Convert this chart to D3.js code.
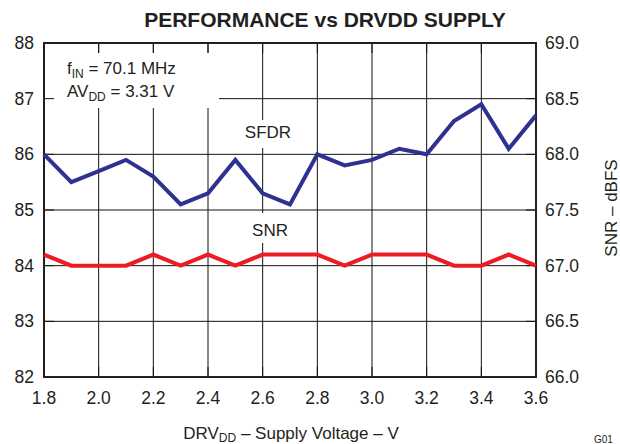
<!DOCTYPE html>
<html>
<head>
<meta charset="utf-8">
<script src="https://cdn.jsdelivr.net/npm/d3@7"></script>
<style>
  body { margin: 0; background: #fff; }
  text { font-family: "Liberation Sans", Arial, sans-serif; fill: #231f20; }
</style>
</head>
<body>
<div id="chart"></div>
<script>
var supply = [1.8, 1.9, 2.0, 2.1, 2.2, 2.3, 2.4, 2.5, 2.6, 2.7, 2.8, 2.9, 3.0, 3.1, 3.2, 3.3, 3.4, 3.5, 3.6];
var sfdr = [86.0, 85.5, 85.7, 85.9, 85.6, 85.1, 85.3, 85.9, 85.3, 85.1, 86.0, 85.8, 85.9, 86.1, 86.0, 86.6, 86.9, 86.1, 86.7];
var snr = [67.1, 67.0, 67.0, 67.0, 67.1, 67.0, 67.1, 67.0, 67.1, 67.1, 67.1, 67.0, 67.1, 67.1, 67.1, 67.0, 67.0, 67.1, 67.0];
var xTicks = [1.8, 2.0, 2.2, 2.4, 2.6, 2.8, 3.0, 3.2, 3.4, 3.6];
var leftTicks = [82, 83, 84, 85, 86, 87, 88];
var rightTicks = [66.0, 66.5, 67.0, 67.5, 68.0, 68.5, 69.0];

var width = 620,
    height = 444,
    margin = {top: 43, right: 84, bottom: 67, left: 44};

var x = d3.scaleLinear().domain([1.8, 3.6]).range([margin.left, width - margin.right]);
var yL = d3.scaleLinear().domain([82, 88]).range([height - margin.bottom, margin.top]);
var yR = d3.scaleLinear().domain([66, 69]).range([height - margin.bottom, margin.top]);

var svg = d3.select("#chart").append("svg")
    .attr("width", width)
    .attr("height", height);

var x0 = margin.left, x1 = width - margin.right,
    y0 = margin.top, y1 = height - margin.bottom;

// grid
svg.append("g").selectAll("line.v")
    .data(xTicks)
  .enter().append("line")
    .attr("x1", function(d) { return x(d); })
    .attr("x2", function(d) { return x(d); })
    .attr("y1", y0).attr("y2", y1)
    .attr("stroke", "#111").attr("stroke-width", 1);

svg.append("g").selectAll("line.h")
    .data(leftTicks)
  .enter().append("line")
    .attr("x1", x0).attr("x2", x1)
    .attr("y1", function(d) { return yL(d); })
    .attr("y2", function(d) { return yL(d); })
    .attr("stroke", "#111").attr("stroke-width", 1);

// white boxes behind the texts
svg.append("rect").attr("x", x0 + 1).attr("y", y0 + 10).attr("width", 174).attr("height", 55).attr("fill", "#fff");
svg.append("rect").attr("x", 240).attr("y", 120).attr("width", 56).attr("height", 28).attr("fill", "#fff");
svg.append("rect").attr("x", 245).attr("y", 213).attr("width", 50).attr("height", 30).attr("fill", "#fff");

// inner ticks
var tk = 10;
var ticks = svg.append("g").attr("stroke", "#111").attr("stroke-width", 1);
xTicks.forEach(function(d) {
  ticks.append("line").attr("x1", x(d)).attr("x2", x(d)).attr("y1", y0).attr("y2", y0 + tk);
  ticks.append("line").attr("x1", x(d)).attr("x2", x(d)).attr("y1", y1).attr("y2", y1 - tk);
});
leftTicks.forEach(function(d) {
  ticks.append("line").attr("x1", x0).attr("x2", x0 + tk).attr("y1", yL(d)).attr("y2", yL(d));
  ticks.append("line").attr("x1", x1).attr("x2", x1 - tk).attr("y1", yL(d)).attr("y2", yL(d));
});

// frame
svg.append("rect")
    .attr("x", x0).attr("y", y0)
    .attr("width", x1 - x0).attr("height", y1 - y0)
    .attr("fill", "none").attr("stroke", "#231f20").attr("stroke-width", 2);

// lines
var lineL = d3.line().x(function(d, i) { return x(supply[i]); }).y(function(d) { return yL(d); });
var lineR = d3.line().x(function(d, i) { return x(supply[i]); }).y(function(d) { return yR(d); });

svg.append("path").datum(snr)
    .attr("d", lineR).attr("fill", "none")
    .attr("stroke", "#ed1c24").attr("stroke-width", 4).attr("stroke-linejoin", "miter");

svg.append("path").datum(sfdr)
    .attr("d", lineL).attr("fill", "none")
    .attr("stroke", "#2e3192").attr("stroke-width", 4).attr("stroke-linejoin", "miter");

// tick labels
svg.append("g").selectAll("text")
    .data(xTicks)
  .enter().append("text")
    .attr("x", function(d) { return x(d); })
    .attr("y", 404)
    .attr("text-anchor", "middle")
    .attr("font-size", 17.5)
    .text(function(d) { return d.toFixed(1); });

svg.append("g").selectAll("text")
    .data(leftTicks)
  .enter().append("text")
    .attr("x", 34)
    .attr("y", function(d) { return yL(d) + 6; })
    .attr("text-anchor", "end")
    .attr("font-size", 17.5)
    .text(function(d) { return d; });

svg.append("g").selectAll("text")
    .data(rightTicks)
  .enter().append("text")
    .attr("x", 545)
    .attr("y", function(d) { return yR(d) + 6; })
    .attr("text-anchor", "start")
    .attr("font-size", 17.5)
    .text(function(d) { return d.toFixed(1); });

// title
svg.append("text")
    .attr("x", 325).attr("y", 27)
    .attr("text-anchor", "middle")
    .attr("font-size", 21).attr("font-weight", "bold")
    .attr("fill", "#000")
    .text("PERFORMANCE vs DRVDD SUPPLY");

// x axis label
var xl = svg.append("text")
    .attr("x", 291).attr("y", 439)
    .attr("text-anchor", "middle")
    .attr("font-size", 17);
xl.append("tspan").text("DRV");
xl.append("tspan").attr("font-size", 12).attr("dy", 3).text("DD");
xl.append("tspan").attr("dy", -3).text(" \u2013 Supply Voltage \u2013 V");

// right axis label
svg.append("text")
    .attr("transform", "translate(617,208) rotate(-90)")
    .attr("text-anchor", "middle")
    .attr("font-size", 17)
    .text("SNR \u2013 dBFS");

// annotation
var a1 = svg.append("text").attr("x", 67).attr("y", 74).attr("font-size", 17);
a1.append("tspan").text("f");
a1.append("tspan").attr("font-size", 12).attr("dy", 4).text("IN");
a1.append("tspan").attr("dy", -4).text(" = 70.1 MHz");

var a2 = svg.append("text").attr("x", 67).attr("y", 97).attr("font-size", 17);
a2.append("tspan").text("AV");
a2.append("tspan").attr("font-size", 12).attr("dy", 4).text("DD");
a2.append("tspan").attr("dy", -4).text(" = 3.31 V");

// series labels
svg.append("text").attr("x", 268).attr("y", 138).attr("text-anchor", "middle").attr("font-size", 17).text("SFDR");
svg.append("text").attr("x", 270).attr("y", 236).attr("text-anchor", "middle").attr("font-size", 17).text("SNR");

// figure id
svg.append("text").attr("x", 594).attr("y", 443).attr("font-size", 10).text("G01");
</script>
</body>
</html>
